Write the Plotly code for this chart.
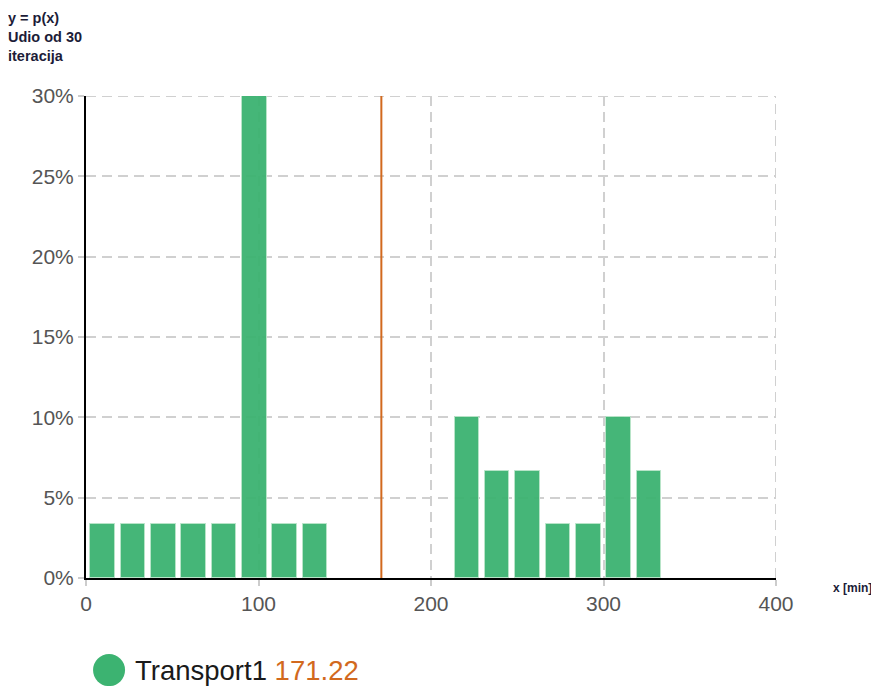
import plotly.graph_objects as go

# Data
bin_centers = [9.6, 27.2, 44.8, 62.4, 80.0, 97.6, 115.2, 132.8,
               220.8, 238.4, 256.0, 273.6, 291.2, 308.8, 326.4]
counts = [1, 1, 1, 1, 1, 9, 1, 1,
          3, 2, 2, 1, 1, 3, 2]
iterations = 30
bar_width = 14.2
mean_value = 171.22
series_name = "Transport1"
x_ticks = [0, 100, 200, 300, 400]
y_ticks = [0, 0.05, 0.10, 0.15, 0.20, 0.25, 0.30]

shares = [c / iterations for c in counts]

GREEN = "#3cb371"
ORANGE = "#d2691e"
GRID = "#d0d0d0"
GRID_DASH = "10px,6px"

fig = go.Figure()
fig.add_trace(go.Bar(
    x=bin_centers, y=shares, width=bar_width,
    marker=dict(color=GREEN, line=dict(color="#b5e3c6", width=1)),
    opacity=0.95,
    showlegend=False, hoverinfo="x+y",
))

# grid lines on the far edges of the plot (plotly skips them at range ends)
fig.add_shape(type="line", xref="paper", x0=0, x1=1, yref="y",
              y0=y_ticks[-1], y1=y_ticks[-1], layer="below",
              line=dict(color=GRID, width=2, dash=GRID_DASH))
fig.add_shape(type="line", xref="x", x0=x_ticks[-1], x1=x_ticks[-1],
              yref="paper", y0=0, y1=1, layer="below",
              line=dict(color=GRID, width=2, dash=GRID_DASH))

fig.add_shape(type="line", x0=mean_value, x1=mean_value, xref="x",
              y0=0, y1=1, yref="paper",
              line=dict(color=ORANGE, width=2))

# legend replica
fig.add_shape(type="circle", xref="paper", yref="paper",
              xsizemode="pixel", ysizemode="pixel",
              xanchor=0.0334, yanchor=-0.191,
              x0=-16, x1=16, y0=-16, y1=16,
              fillcolor=GREEN, line=dict(width=0))
fig.add_annotation(xref="paper", yref="paper", x=0.068, y=-0.191,
                   xanchor="left", yanchor="middle", showarrow=False,
                   text=f"{series_name} <span style='color:{ORANGE}'>{mean_value:.2f}</span>",
                   font=dict(family="Liberation Sans, Arial", size=27.5, color="#1a1a1a"))

# axis titles
fig.add_annotation(xref="paper", yref="paper", x=-0.116, y=1.183,
                   xanchor="left", yanchor="top", align="left", showarrow=False,
                   text="<b>y = p(x)<br>Udio od 30<br>iteracija</b>",
                   font=dict(family="Liberation Sans, Arial", size=14.5, color="#1c1c38"))
fig.add_annotation(xref="paper", yref="paper", x=1.08, y=-0.021,
                   xanchor="left", yanchor="middle", showarrow=False,
                   text="<b>x [min]</b>",
                   font=dict(family="Liberation Sans, Arial", size=12, color="#1c1c38"))

axis_common = dict(
    showgrid=True, gridcolor=GRID, gridwidth=2, griddash=GRID_DASH,
    showline=True, linecolor="black", linewidth=2,
    ticks="outside", ticklen=6, tickcolor="#cccccc", tickwidth=2,
    tickfont=dict(family="Liberation Sans, Arial", size=21, color="#555555"),
    zeroline=False, layer="above traces",
)

fig.update_xaxes(range=[0, 400], tickvals=x_ticks, **axis_common)
fig.update_yaxes(range=[0, 0.30], tickvals=y_ticks, tickformat=".0%", **axis_common)

# page body adds an 8px margin, so the figure is sized to fit the 879x686 window
fig.update_layout(
    width=871, height=678,
    margin=dict(l=78, r=103, t=88, b=108),
    plot_bgcolor="white", paper_bgcolor="white",
    bargap=0,
)

fig.write_html("out.html")
